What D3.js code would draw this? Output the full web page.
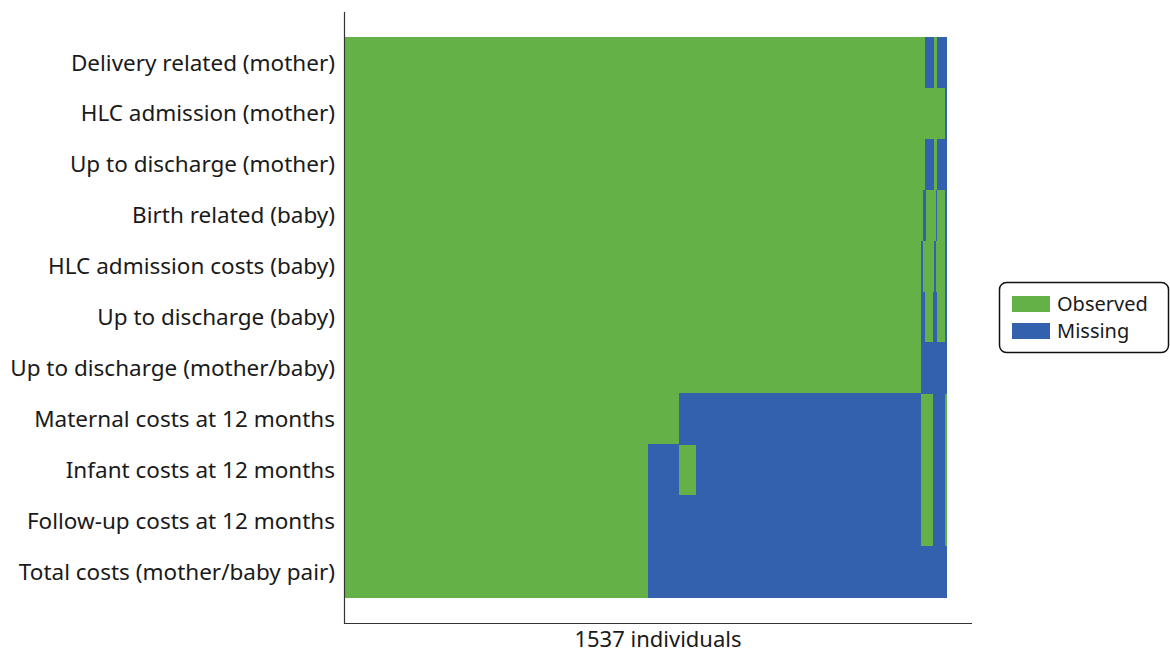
<!DOCTYPE html>
<html>
<head>
<meta charset="utf-8">
<script src="https://cdn.jsdelivr.net/npm/d3@7"></script>
<style>
  body { margin: 0; background: #fff; }
  text { font-family: "Noto Sans", "Open Sans", sans-serif; fill: #1a1a1a; }
  rect.obs, rect.miss { shape-rendering: crispEdges; }
</style>
</head>
<body>
<div id="chart"></div>
<script>
// number of individuals (columns of the missingness map)
const nIndividuals = 1537;

const variables = [
  "Delivery related (mother)",
  "HLC admission (mother)",
  "Up to discharge (mother)",
  "Birth related (baby)",
  "HLC admission costs (baby)",
  "Up to discharge (baby)",
  "Up to discharge (mother/baby)",
  "Maternal costs at 12 months",
  "Infant costs at 12 months",
  "Follow-up costs at 12 months",
  "Total costs (mother/baby pair)"
];

// missing stretches per variable, as [from, to] individual index
const missing = [
  [[1481, 1503], [1512, 1537]],
  [[1532, 1537]],
  [[1481, 1503], [1512, 1537]],
  [[1476, 1483], [1509, 1512], [1532, 1537]],
  [[1471, 1476], [1503, 1509], [1532, 1537]],
  [[1471, 1481], [1501, 1512], [1532, 1537]],
  [[1471, 1537]],
  [[854, 1471], [1501, 1532]],
  [[776, 854], [897, 1471], [1501, 1532]],
  [[776, 1471], [1501, 1532]],
  [[776, 1537]]
];

const legendLabels = ["Observed", "Missing"];
const colours = {Observed: "#64b148", Missing: "#3361ad"};

const width = 1170, height = 655;

var svg = d3.select("#chart")
  .append("svg")
  .attr("width", width)
  .attr("height", height);

// scales
var x = d3.scaleLinear().domain([0, nIndividuals]).range([344, 947]);
var y = d3.scaleBand().domain(variables).range([37, 597]).padding(0);

// observed background per variable
svg.selectAll(".obs")
  .data(variables)
  .enter()
  .append("rect")
  .attr("class", "obs")
  .attr("x", x(0))
  .attr("y", d => y(d))
  .attr("width", x(nIndividuals) - x(0))
  .attr("height", y.bandwidth() + 0.5)
  .attr("fill", colours.Observed);

// missing segments
var segs = [];
missing.forEach(function(list, i) {
  list.forEach(function(r) {
    segs.push({variable: variables[i], from: r[0], to: r[1]});
  });
});

svg.selectAll(".miss")
  .data(segs)
  .enter()
  .append("rect")
  .attr("class", "miss")
  .attr("x", d => x(d.from))
  .attr("y", d => y(d.variable))
  .attr("width", d => x(d.to) - x(d.from))
  .attr("height", y.bandwidth() + 0.5)
  .attr("fill", colours.Missing);

// axes lines (no ticks)
svg.append("line")
  .attr("x1", 344.5).attr("x2", 344.5)
  .attr("y1", 12).attr("y2", 623.5)
  .attr("stroke", "#333").attr("stroke-width", 1.2);
svg.append("line")
  .attr("x1", 344).attr("x2", 972)
  .attr("y1", 623.5).attr("y2", 623.5)
  .attr("stroke", "#333").attr("stroke-width", 1.2);

// variable labels
svg.selectAll(".lab")
  .data(variables)
  .enter()
  .append("text")
  .attr("class", "lab")
  .attr("x", 335)
  .attr("y", d => y(d) + y.bandwidth() / 2)
  .attr("dy", "0.36em")
  .attr("text-anchor", "end")
  .style("font-size", "22.5px")
  .text(d => d);

// x label
svg.append("text")
  .attr("x", 658)
  .attr("y", 647)
  .attr("text-anchor", "middle")
  .style("font-size", "22px")
  .text(nIndividuals + " individuals");

// legend
var lg = svg.append("g").attr("transform", "translate(999,282)");
lg.append("rect")
  .attr("x", 0.5).attr("y", 0.5)
  .attr("width", 169).attr("height", 70)
  .attr("rx", 7)
  .attr("fill", "#fff")
  .attr("stroke", "#111")
  .attr("stroke-width", 1.5);

var items = lg.selectAll(".item")
  .data(legendLabels)
  .enter()
  .append("g")
  .attr("transform", (d, i) => "translate(13," + (14 + i * 27) + ")");
items.append("rect")
  .attr("width", 38).attr("height", 16)
  .attr("fill", d => colours[d]);
items.append("text")
  .attr("x", 45)
  .attr("y", 8)
  .attr("dy", "0.36em")
  .style("font-size", "20px")
  .text(d => d);
</script>
</body>
</html>
